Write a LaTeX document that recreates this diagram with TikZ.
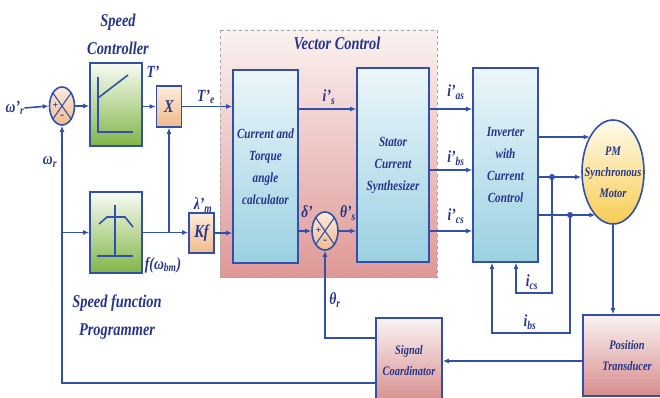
\documentclass[tikz,border=0pt]{standalone}
\usepackage{fontspec}
\setmainfont{Liberation Serif}
\newfontfamily\figfont{Liberation Serif}[FakeStretch=0.8]
\usepackage{xcolor}
\usetikzlibrary{arrows.meta,shapes.geometric,positioning}
\definecolor{linefig}{RGB}{50, 80, 170}
\definecolor{textfig}{RGB}{38, 52, 138}
\definecolor{greentop}{RGB}{248, 252, 244}
\definecolor{greenbot}{RGB}{130, 180, 70}
\definecolor{bluetop}{RGB}{236, 246, 251}
\definecolor{bluebot}{RGB}{155, 208, 225}
\definecolor{orangetop}{RGB}{253, 236, 222}
\definecolor{orangebot}{RGB}{240, 186, 140}
\definecolor{pinktop}{RGB}{251, 242, 242}
\definecolor{pinkbot}{RGB}{214, 140, 140}
\definecolor{vctop}{RGB}{251, 242, 240}
\definecolor{vcmid}{RGB}{230, 172, 168}
\definecolor{vcbot}{RGB}{222, 152, 150}
\definecolor{yellowtop}{RGB}{255, 252, 236}
\definecolor{yellowbot}{RGB}{248, 204, 82}
\tikzset{
    wire/.style={line width=1.6pt, color=linefig},
    arrowwire/.style={wire, -{Latex[length=6pt,width=5pt]}},
    boxtext/.style={text=textfig, font=\figfont\bfseries\itshape\fontsize{14}{22}\selectfont, align=center},
    smalltext/.style={text=textfig, font=\figfont\bfseries\itshape\fontsize{13}{21}\selectfont, align=center},
    labeltext/.style={text=textfig, font=\figfont\bfseries\itshape\fontsize{17}{18}\selectfont, inner sep=0pt},
    headtext/.style={text=textfig, font=\figfont\bfseries\itshape\fontsize{18}{28}\selectfont, align=center},
    greenbox/.style={draw=linefig, line width=1.6pt, top color=greentop, bottom color=greenbot, inner sep=0pt},
    bluebox/.style={draw=linefig, line width=1.6pt, top color=bluetop, bottom color=bluebot, boxtext, inner sep=0pt},
    orangebox/.style={draw=linefig, line width=1.6pt, top color=orangetop, bottom color=orangebot, inner sep=0pt, text=textfig, font=\figfont\bfseries\itshape\fontsize{18}{18}\selectfont},
    pinkbox/.style={draw=linefig, line width=1.6pt, top color=pinktop, bottom color=pinkbot, smalltext, inner sep=0pt},
    sumnode/.style={ellipse, draw=linefig, line width=1.6pt, top color=orangetop, bottom color=orangebot, minimum width=25pt, minimum height=38pt, inner sep=0pt}
}
\begin{document}
\begin{tikzpicture}[x=1pt, y=-1pt]
    \useasboundingbox (0,0) rectangle (660,398);
    \clip (0,0) rectangle (660,398);

    % vector control region
    \draw[gray!70, dashed, line width=0.6pt, top color=vctop, middle color=vcmid, bottom color=vcbot] (220,30) rectangle (437,277);
    \node[headtext] (vctitle) at (337,43) {Vector Control};

    % blocks
    \node[sumnode] (sumA) at (62,106) {};
    \node[greenbox, minimum width=52pt, minimum height=83pt] (spc) at (116,104.5) {};
    \node[orangebox, minimum width=25pt, minimum height=41pt] (mult) at (169,106.5) {X};
    \node[greenbox, minimum width=52pt, minimum height=81pt] (sfp) at (116,232.5) {};
    \node[orangebox, minimum width=25pt, minimum height=40pt] (kf) at (201.5,233) {Kf};
    \node[bluebox, minimum width=65pt, minimum height=193pt] (cta) at (265.5,166.5) {Current and\\Torque\\angle\\calculator};
    \node[sumnode, minimum width=26pt] (sumB) at (325,231) {};
    \node[bluebox, minimum width=72pt, minimum height=194pt] (ssc) at (393,165) {Stator\\Current\\Synthesizer};
    \node[bluebox, minimum width=65pt, minimum height=194pt] (inv) at (505.5,165) {Inverter\\with\\Current\\Control};
    \node[ellipse, draw=linefig, line width=1.6pt, top color=yellowtop, bottom color=yellowbot, minimum width=62pt, minimum height=104pt, inner sep=0pt] (motor) at (613,172) {};
    \node[smalltext] (motortext) at (motor.center) {PM\\Synchronous\\Motor};
    \node[pinkbox, minimum width=92pt, minimum height=81pt] (pt) at (629,355.5) {\hspace*{-4pt}Position\\\hspace*{-4pt}Transducer};
    \node[pinkbox, minimum width=66pt, minimum height=86pt] (sc) at (409,361) {Signal\\Coardinator};

    % sum signs
    \foreach \s in {sumA, sumB} {
        \draw[wire, line width=1.1pt] (\s.125) -- (\s.305);
        \draw[wire, line width=1.1pt] (\s.55) -- (\s.235);
        \node[text=textfig, font=\bfseries\fontsize{10}{10}\selectfont, inner sep=0pt] at ([xshift=-6.5pt]\s.center) {+};
        \node[text=textfig, font=\bfseries\fontsize{12}{12}\selectfont, inner sep=0pt] at ([yshift=-11pt]\s.center) {-};
    }

    % icons
    \draw[wire] (98,77) -- (98,132) -- (133,132);
    \draw[wire] (98,98) -- (128,75);
    \draw[wire] (115,205) -- (115,256);
    \draw[wire] (97,256) -- (133,256);
    \draw[wire] (99,224) -- (107,217) -- (125,217) -- (133,227);

    % headings and labels
    \node[headtext] (spchead) at (118,34) {Speed\\Controller};
    \node[headtext] (sfphead) at (117,317.5) {Speed function\\Programmer};
    \node[labeltext] (wref) at (15,108) {ω’\textsubscript{r}};
    \node[labeltext] (wr) at (50,162) {ω\textsubscript{r}};
    \node[labeltext] (tq) at (153,72) {T’};
    \node[labeltext] (tqe) at (206,97) {T’\textsubscript{e}};
    \node[labeltext] (lam) at (203,205) {λ’\textsubscript{m}};
    \node[labeltext] (fw) at (163,265) {f(ω\textsubscript{bm})};
    \node[labeltext] (is) at (329,97) {i’\textsubscript{s}};
    \node[labeltext] (del) at (307,212) {δ’};
    \node[labeltext] (ths) at (348,213) {θ’\textsubscript{s}};
    \node[labeltext] (ias) at (456,92) {i’\textsubscript{as}};
    \node[labeltext] (ibs) at (456,158) {i’\textsubscript{bs}};
    \node[labeltext] (ics) at (456,216) {i’\textsubscript{cs}};
    \node[labeltext] (icsfb) at (532,282) {i\textsubscript{cs}};
    \node[labeltext] (ibsfb) at (530,322) {i\textsubscript{bs}};
    \node[labeltext] (thr) at (335,300) {θ\textsubscript{r}};

    % levels and taps
    \coordinate (ya) at (0,109);
    \coordinate (yb) at (0,170);
    \coordinate (ma) at (0,137);
    \coordinate (mb) at (0,177);
    \coordinate (mc) at (0,215);
    \coordinate (tapb) at (552,177);
    \coordinate (tapc) at (570,215);
    \coordinate (csb) at (0,293);
    \coordinate (bsb) at (0,333);
    \coordinate (yps) at (0,361);
    \coordinate (yth) at (0,338);
    \coordinate (yfb) at (0,383);
    \coordinate (tapf) at (sumA.south |- sfp.west);
    \coordinate (tapm) at (mult.south |- sfp.east);

    % speed loop
    \draw[arrowwire] (wref.east) -- (sumA.west);
    \draw[arrowwire, line width=2.6pt] (sumA.east) -- (spc.west |- sumA.east);
    \draw[arrowwire] (spc.east |- mult.west) -- (mult.west);
    \draw[arrowwire] (mult.east) -- (cta.west |- mult.east);
    \draw[arrowwire] (tapf) -- (sfp.west);
    \draw[arrowwire] (sfp.east) -- (kf.west |- sfp.east);
    \draw[arrowwire] (tapm) -- (mult.south);
    \draw[arrowwire] (kf.east) -- (cta.west |- kf.east);

    % vector control
    \draw[arrowwire] (cta.east |- ya) -- (ssc.west |- ya);
    \draw[arrowwire] (cta.east |- sumB.west) -- (sumB.west);
    \draw[arrowwire] (sumB.east) -- (ssc.west |- sumB.east);
    \draw[arrowwire] (ssc.east |- ya) -- (inv.west |- ya);
    \draw[arrowwire] (ssc.east |- yb) -- (inv.west |- yb);
    \draw[arrowwire] (ssc.east |- sumB.east) -- (inv.west |- sumB.east);

    % inverter to motor
    \draw[arrowwire] (inv.east |- ma) -- (motor.123 |- ma);
    \draw[arrowwire] (inv.east |- mb) -- (motor.west |- mb);
    \draw[arrowwire] (inv.east |- mc) -- (motor.248 |- mc);
    \fill[linefig] (tapb) circle (3);
    \fill[linefig] (tapc) circle (3);
    \draw[arrowwire] (tapb) -- (tapb |- csb) -| ([xshift=10.5pt]inv.south);
    \draw[arrowwire] (tapc) -- (tapc |- bsb) -| ([xshift=-13.5pt]inv.south);

    % position feedback
    \draw[arrowwire] (motor.south) -- (motor.south |- pt.north);
    \draw[arrowwire] (pt.west |- yps) -- (sc.east |- yps);
    \draw[arrowwire] (sc.west |- yth) -| (sumB.south);
    \draw[arrowwire] (sc.west |- yfb) -| (sumA.south);
\end{tikzpicture}
\end{document}
